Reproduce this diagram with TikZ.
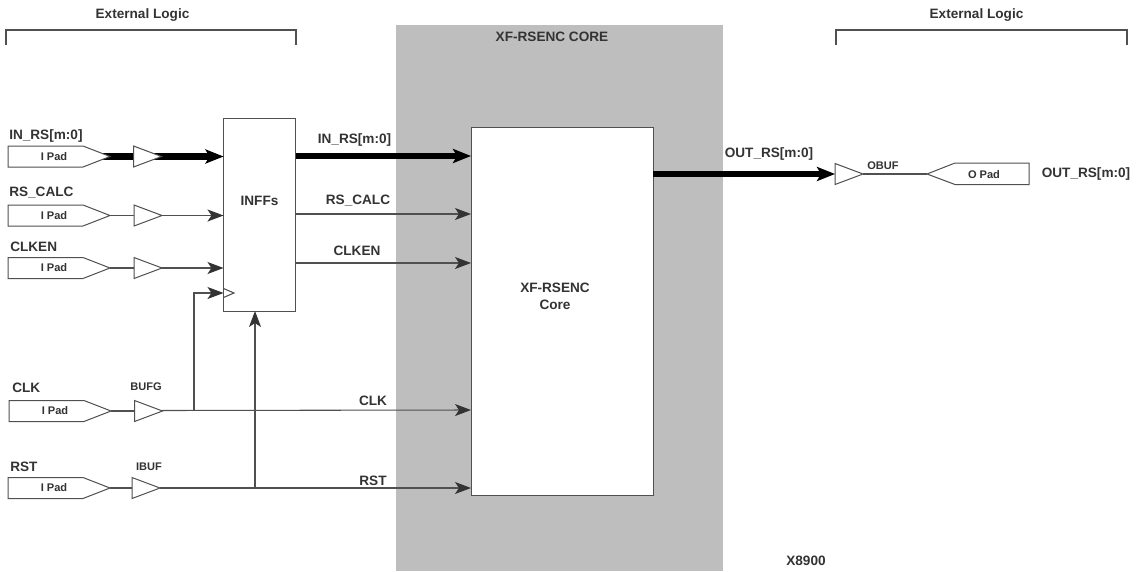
\documentclass[tikz,border=0pt]{standalone}
\usepackage{fontspec}
\setmainfont{Liberation Sans}
\usetikzlibrary{arrows.meta,calc}
\definecolor{ink}{HTML}{333333}
\definecolor{wire}{HTML}{505050}
\definecolor{coregray}{HTML}{BEBEBE}
\tikzset{
 x=0.75pt,y=-0.75pt,
 shapeline/.style={draw=wire,line width=0.75pt,fill=white,line join=miter},
 thinwire/.style={draw=wire,line width=0.8pt},
 thickwire/.style={draw=black,line width=5.2pt},
 thinarrow/.style={thinwire,-{Stealth[length=16*0.75pt,width=12*0.75pt,inset=4*0.75pt,color=ink]}},
 thickarrow/.style={thickwire,-{Stealth[length=18*0.75pt,width=14*0.75pt,inset=4*0.75pt,color=black]}},
 biglabel/.style={font=\bfseries\fontsize{10.2}{12.7}\selectfont,text=ink,inner sep=0pt},
 smalllabel/.style={font=\bfseries\fontsize{8.3}{10}\selectfont,text=ink,inner sep=0pt},
 blockbox/.style={draw=wire,line width=0.75pt,fill=white},
}
\newcommand{\ipadshape}[3]{% name, left x, centre y
 \draw[shapeline] (#2,#3-10.5) -- (#2+75,#3-10.5) -- (#2+102,#3) -- (#2+75,#3+10.5) -- (#2,#3+10.5) -- cycle;
 \node[smalllabel] (#1label) at (#2+46,#3) {I Pad};
}
\newcommand{\bufshape}[3]{% name, left x, centre y
 \draw[shapeline] (#2,#3-10.5) -- (#2+28,#3) -- (#2,#3+10.5) -- cycle;
}
\begin{document}
\begin{tikzpicture}
\useasboundingbox (0,0) rectangle (1145,571);
\fill[coregray] (396,25) rectangle (723,571);
\coordinate (pa1) at (98,156.5); \coordinate (pa2) at (110,215.5); \coordinate (pa3) at (110,268);
\coordinate (pa4) at (111,411); \coordinate (pa5) at (110,488);
\node[blockbox,minimum width=72*0.75pt,minimum height=193*0.75pt,inner sep=0pt] (inffs) at (259.5,214.5) {};
\node[blockbox,minimum width=182*0.75pt,minimum height=368*0.75pt,inner sep=0pt] (core) at (562,311) {};
\coordinate (inffsA) at (223.5,156.5); \coordinate (inffsB) at (223.5,215.5); \coordinate (inffsC) at (223.5,268);
\coordinate (inffsD) at (223.5,293); \coordinate (inffsE) at (255,311);
\coordinate (inffsOA) at (295.5,156); \coordinate (inffsOB) at (295.5,214); \coordinate (inffsOC) at (295.5,263);
\coordinate (coreA) at (471,156); \coordinate (coreB) at (471,214); \coordinate (coreC) at (471,263);
\coordinate (coreD) at (471,410); \coordinate (coreE) at (471,488); \coordinate (coreO) at (653,174);
\coordinate (baout) at (150,156.5); \coordinate (bbout) at (161,215.5); \coordinate (bcout) at (161,268);
\coordinate (bain) at (135,156.5); \coordinate (bbin) at (134,215.5); \coordinate (bcin) at (134,268);
\coordinate (bdin) at (135,411); \coordinate (bein) at (132,488);
\coordinate (bdout) at (162,410.5); \coordinate (beout) at (160,488);
\coordinate (boin) at (835,174); \coordinate (boout) at (863,174); \coordinate (opadtip) at (927,174);
\coordinate (clkT) at (194,410.5); \coordinate (rstT) at (255,488); \coordinate (clkC) at (194,293);
% input wires
\draw[thickwire] (pa1) -- (bain);
\draw[thickarrow] (baout) -- (inffsA);
\draw[thinwire] (pa2) -- (bbin);
\draw[thinarrow] (bbout) -- (inffsB);
\draw[thinwire] (pa3) -- (bcin);
\draw[thinarrow] (bcout) -- (inffsC);
\draw[thinwire] (pa4) -- (bdin);
\draw[thinwire] (pa5) -- (bein);
% outputs of INFFs
\draw[thickarrow] (inffsOA) -- (coreA);
\draw[thinarrow] (inffsOB) -- (coreB);
\draw[thinarrow] (inffsOC) -- (coreC);
% CLK, RST
\draw[thinarrow] (bdout) -- (coreD);
\draw[thinarrow] (clkT) -- (clkC) -- (inffsD);
\draw[thinarrow] (beout) -- (coreE);
\draw[thinarrow] (rstT) -- (inffsE);
\draw[thinwire] (223.5,288.5) -- (234,293) -- (223.5,297.5);
% out
\draw[thickarrow] (coreO) -- (boin);
\draw[thinwire] (boout) -- (opadtip);
% pads
\ipadshape{pa1}{8}{156.5}
\ipadshape{pa2}{8}{215.5}
\ipadshape{pa3}{8}{268}
\ipadshape{pa4}{9}{411}
\ipadshape{pa5}{8}{488}
\bufshape{ba}{133.5}{156.5}
\bufshape{bb}{134}{215.5}
\bufshape{bc}{134}{268}
\bufshape{bd}{134.5}{411}
\bufshape{be}{132}{488}
\bufshape{bo}{835}{174}
\draw[shapeline] (1029,163) -- (955,163) -- (927,174) -- (955,184.5) -- (1029,184.5) -- cycle;
\node[smalllabel] (opad) at (984,174.5) {O Pad};
% brackets
\draw[thinwire] (6,45) -- (6,30) -- (296,30) -- (296,45);
\draw[thinwire] (836,45) -- (836,30) -- (1127,30) -- (1127,45);
% labels
\node[biglabel] (t1) at (142.5,15) {External Logic};
\node[biglabel] (t2) at (976.5,15) {External Logic};
\node[biglabel] (t3) at (552,37) {XF-RSENC CORE};
\node[biglabel,anchor=west] (l1) at (9,135.5) {IN\_RS[m:0]};
\node[biglabel,anchor=west] (l2) at (9,192.5) {RS\_CALC};
\node[biglabel,anchor=west] (l3) at (10,247) {CLKEN};
\node[biglabel,anchor=west] (l4) at (12,388) {CLK};
\node[biglabel,anchor=west] (l5) at (10,467) {RST};
\node[smalllabel] (l6) at (146,387) {BUFG};
\node[smalllabel] (l7) at (149,467) {IBUF};
\node[biglabel] (l8) at (259.5,201) {INFFs};
\node[biglabel] (l9) at (354.5,140) {IN\_RS[m:0]};
\node[biglabel] (l10) at (358,201) {RS\_CALC};
\node[biglabel] (l11) at (357,251) {CLKEN};
\node[biglabel] (l12) at (373,401) {CLK};
\node[biglabel] (l13) at (373,481) {RST};
\node[biglabel,align=center] (l14) at (555,296.5) {XF-RSENC\\Core};
\node[biglabel] (l15) at (769,154) {OUT\_RS[m:0]};
\node[smalllabel] (l16) at (883,166) {OBUF};
\node[biglabel] (l17) at (1086,174) {OUT\_RS[m:0]};
\node[biglabel] (l18) at (806,561) {X8900};
\end{tikzpicture}
\end{document}
